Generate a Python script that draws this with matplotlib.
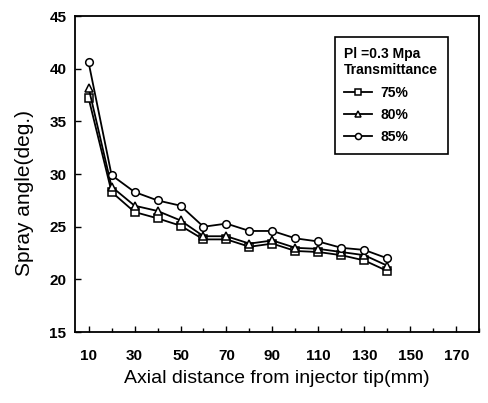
import matplotlib as mpl
mpl.use('Agg')
import matplotlib.pyplot as plt
from matplotlib.ticker import MultipleLocator

plt.rcParams['font.family'] = ['Liberation Sans', 'DejaVu Sans']
plt.rcParams['font.weight'] = 'bold'

# axial distance from the injector tip (mm)
distance = [10, 20, 30, 40, 50, 60, 70, 80, 90, 100, 110, 120, 130, 140]

# spray angle (deg.) for each transmittance level
angle_75 = [37.2, 28.3, 26.4, 25.8, 25.1, 23.8, 23.8, 23.1, 23.4, 22.7, 22.6, 22.3, 21.8, 20.8]
angle_80 = [38.2, 28.8, 27.0, 26.5, 25.6, 24.1, 24.1, 23.4, 23.7, 23.0, 22.9, 22.6, 22.3, 21.3]
angle_85 = [40.6, 29.9, 28.3, 27.5, 27.0, 25.0, 25.3, 24.6, 24.6, 23.9, 23.6, 23.0, 22.8, 22.0]

fig = plt.figure(figsize=(4.89, 4.03), dpi=100)
ax = fig.add_axes([0.153, 0.176, 0.827, 0.784])

style = dict(color='black', linewidth=1.3, markersize=5.5, markerfacecolor='white',
             markeredgecolor='black', markeredgewidth=1.1)
ax.plot(distance, angle_75, marker='s', label='75%', **style)
ax.plot(distance, angle_80, marker='^', label='80%', **style)
ax.plot(distance, angle_85, marker='o', label='85%', **style)

ax.set_xlim(4, 180)
ax.set_ylim(15, 45)
ax.set_xticks(range(10, 171, 20))
ax.xaxis.set_minor_locator(MultipleLocator(10))
ax.yaxis.set_major_locator(MultipleLocator(5))
ax.tick_params(direction='in', length=4, width=1, labelsize=11, pad=12)
ax.tick_params(axis='y', pad=6)
ax.tick_params(which='minor', direction='in', length=3, width=1)
for side in ax.spines.values():
    side.set_linewidth(1.3)

ax.set_xlabel('Axial distance from injector tip(mm)', fontsize=14,
              fontweight='normal', labelpad=5)
ax.set_ylabel('Spray angle(deg.)', fontsize=15, fontweight='normal', labelpad=8)
ax.yaxis.set_label_coords(-0.10, 0.44)

leg = ax.legend(title='Pl =0.3 Mpa\nTransmittance', loc='upper left',
                bbox_to_anchor=(0.625, 0.955), fancybox=False, edgecolor='black',
                fontsize=10, title_fontsize=10, handlelength=2.0, markerscale=0.8,
                borderpad=0.7, labelspacing=0.6, handletextpad=0.6, framealpha=1)
leg._legend_box.align = 'left'
leg.get_frame().set_linewidth(1.2)
leg.get_title().set_fontweight('bold')

fig.savefig('out.png', dpi=100)
